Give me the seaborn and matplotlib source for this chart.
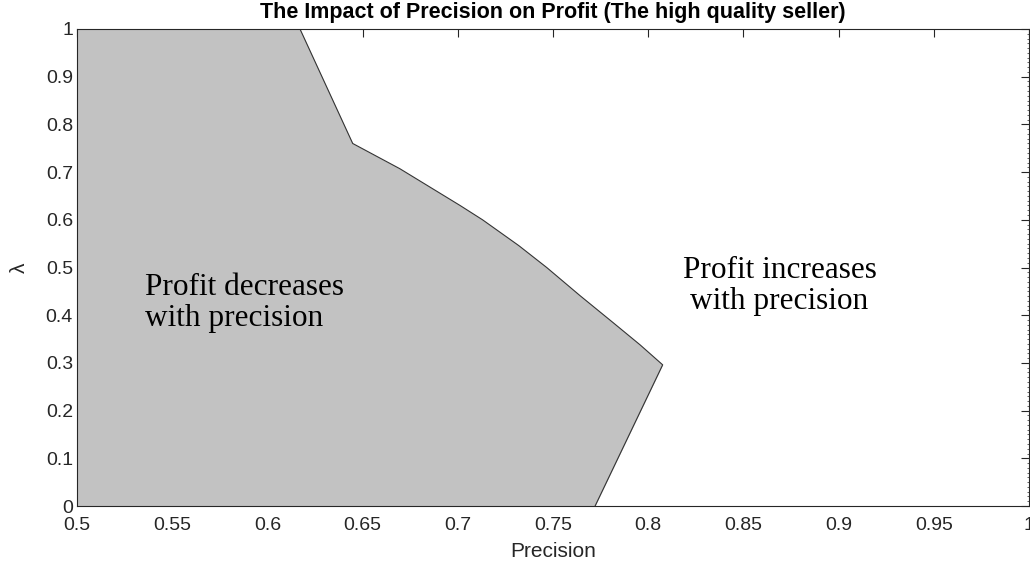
import numpy as np
import matplotlib
matplotlib.use('Agg')
import matplotlib.pyplot as plt
import seaborn as sns
from matplotlib.ticker import MultipleLocator

# boundary between the two regions (ordered by lambda)
lam = [0.0, 0.296, 0.338, 0.384, 0.441, 0.500, 0.546, 0.600, 0.630, 0.707, 0.760, 1.0]
precision = [0.7721, 0.8076, 0.7957, 0.7817, 0.7642, 0.7467, 0.7320, 0.7130, 0.7012,
             0.6696, 0.6448, 0.6171]

xticks = [0.5, 0.55, 0.6, 0.65, 0.7, 0.75, 0.8, 0.85, 0.9, 0.95, 1]
yticks = [0, 0.1, 0.2, 0.3, 0.4, 0.5, 0.6, 0.7, 0.8, 0.9, 1]

sns.set_theme(style='white')
plt.rcParams['font.family'] = ['Liberation Sans', 'DejaVu Sans']
dark = '#262626'

fig = plt.figure(figsize=(10.3, 5.62), dpi=100)
ax = fig.add_axes([0.0748, 0.0996, 0.9242, 0.8488])

ax.fill_betweenx(lam, 0.5, precision, color='#c2c2c2', linewidth=0, zorder=1)
sns.lineplot(x=precision, y=lam, sort=False, color='#333333', linewidth=0.8, ax=ax, zorder=2)

ax.set_xlim(0.5, 1)
ax.set_ylim(0, 1)
ax.set_xticks(xticks)
ax.set_xticklabels(['0.5', '0.55', '0.6', '0.65', '0.7', '0.75', '0.8', '0.85', '0.9', '0.95', '1'])
ax.set_yticks(yticks)
ax.set_yticklabels(['0', '0.1', '0.2', '0.3', '0.4', '0.5', '0.6', '0.7', '0.8', '0.9', '1'])
ax.yaxis.set_minor_locator(MultipleLocator(0.01))
ax.tick_params(which='major', direction='in', length=6, width=0.8, color=dark,
               labelcolor=dark, labelsize=14, top=True, right=True)
ax.tick_params(which='major', axis='x', pad=8)
ax.tick_params(which='major', axis='y', pad=3)
ax.tick_params(which='minor', axis='y', direction='in', length=1.5, width=0.5,
               color=dark, left=True, right=True)
for s in ax.spines.values():
    s.set_color(dark)
    s.set_linewidth(0.8)
    s.set_visible(True)

ax.set_xlabel('Precision', fontsize=15, color=dark, labelpad=6)
ax.set_ylabel('λ', fontsize=15, color=dark, labelpad=12)
ax.set_title('The Impact of Precision on Profit (The high quality seller)',
             fontsize=15.5, fontweight='bold', color='black', pad=8)

ax.text(0.5357, 0.426, 'Profit decreases\nwith precision', family='Liberation Serif',
        fontsize=22.5, color='black', ha='left', va='center', linespacing=1.1, zorder=3)
ax.text(0.869, 0.462, 'Profit increases\nwith precision', family='Liberation Serif',
        fontsize=22.5, color='black', ha='center', va='center', linespacing=1.1, zorder=3)

fig.savefig('out.png', dpi=100)
